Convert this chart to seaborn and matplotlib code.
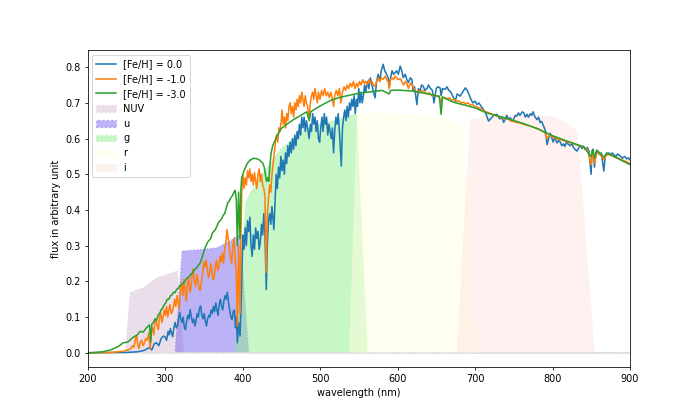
import numpy as np
import pandas as pd
import matplotlib
matplotlib.use("Agg")
import matplotlib.pyplot as plt
import seaborn as sns

# ---------------- data ----------------
labels = ["[Fe/H] = 0.0", "[Fe/H] = -1.0", "[Fe/H] = -3.0"]

wl_fe0 = [200, 250, 265, 272, 276, 280, 283, 286, 289, 292, 295, 298,
          300, 302, 304, 305.5, 307, 308.5, 310, 311.5, 313, 314.5, 316, 317.5, 319, 320.5,
          322, 323.5, 325, 326.5, 328, 329.5, 331, 332.5, 334, 335.5, 337, 338.5, 340, 341.5,
          343, 344.5, 346, 347.5, 349, 350.5, 352, 353.5, 355, 356.5, 358, 359.5, 361, 362.5,
          364, 365.5, 367, 368.5, 370, 371.5, 373, 374.5, 376, 377.5, 379, 380.5, 382, 383.5,
          385, 386.5, 388, 389.5, 391, 392, 393.4, 395, 396.8, 398,
          399, 400.5, 402, 403.5, 405, 406.5, 408, 409.5, 411, 412.5, 414, 415.5, 417, 418.5,
          420, 421.5, 423, 424.5, 426, 427.5, 429, 430.7, 432, 433.5, 435, 436.5, 438, 439.5,
          440.5, 442, 443.5, 445, 446.5, 448, 449.5, 451, 452.5, 454, 455.5, 457, 458.5, 460,
          461.5, 463, 464.5, 466, 467.5, 469, 470.5, 472, 473.5, 475, 476.5, 478, 479.5, 481,
          482.5, 484, 486, 487.5, 489, 490.5, 492, 493.5, 495, 496.5, 498, 499.5, 501, 502.5,
          504, 505.5, 507, 508.5, 510, 511.5, 513, 514.5, 516, 517.5, 519, 520.5, 522, 523.5,
          525, 526, 527.5, 529, 530.5, 532, 533.5, 535, 536.5, 538, 539.5, 541, 542.5, 544,
          545.5, 547, 548.5, 550, 551.5, 553, 554.5, 556, 557.5, 559, 561, 563, 565, 567, 569,
          571, 573, 575, 577, 579, 581.5, 583.5, 586, 588, 589.3, 591, 593, 595, 597, 599, 601,
          603.5, 605.5, 607.5, 610, 612, 614, 616.5, 618.5, 620, 622, 625, 627, 629, 631, 633,
          635.5, 638, 640, 642, 645, 647, 650, 652, 655, 656.3, 658, 661.5, 664, 666, 668, 671,
          674.5, 677, 681, 684, 687.5, 690, 692, 694, 697, 700, 702.5, 705, 708, 711, 714,
          717.5, 720, 724, 728, 732, 735, 737, 741, 743, 745.6, 748, 750, 752, 754, 756, 758,
          761, 763, 765, 767, 769, 771.4, 773, 775, 777, 780, 782, 784, 786, 788.6, 791, 793,
          795, 797, 799, 801, 803, 805.7, 808, 810, 812, 814.3, 816, 818, 820, 823, 825, 827,
          829, 831.6, 834, 836, 838, 840, 842, 845, 847, 849.8, 851, 852.5, 854.2, 856, 858,
          861, 863, 866.2, 868, 870, 873, 875, 877, 879, 882, 884, 887.6, 890, 893, 896, 898, 900]
flux_fe0 = [0.0, 0.001, 0.003, 0.006, 0.010, 0.015, 0.008, 0.025, 0.028, 0.020, 0.040, 0.047,
            0.045, 0.035, 0.060, 0.050, 0.068, 0.055, 0.045, 0.070, 0.085, 0.070, 0.075, 0.095,
            0.112, 0.095, 0.085, 0.100, 0.070, 0.065, 0.090, 0.105, 0.095, 0.121, 0.100, 0.085,
            0.095, 0.075, 0.090, 0.110, 0.100, 0.125, 0.131, 0.105, 0.095, 0.110, 0.090, 0.075,
            0.095, 0.105, 0.100, 0.120, 0.110, 0.130, 0.115, 0.140, 0.120, 0.105, 0.135, 0.150,
            0.130, 0.120, 0.145, 0.160, 0.150, 0.170, 0.140, 0.120, 0.100, 0.093, 0.115, 0.120,
            0.070, 0.100, 0.028, 0.084, 0.047, 0.120,
            0.200, 0.330, 0.290, 0.350, 0.300, 0.370, 0.340, 0.380, 0.300, 0.270, 0.330, 0.290,
            0.350, 0.320, 0.340, 0.290, 0.310, 0.360, 0.330, 0.390, 0.330, 0.177, 0.300, 0.370,
            0.390, 0.360, 0.410, 0.370, 0.345, 0.420, 0.500, 0.460, 0.520, 0.490, 0.550, 0.510,
            0.540, 0.500, 0.560, 0.530, 0.580, 0.550, 0.590, 0.560, 0.600, 0.570, 0.610, 0.580,
            0.620, 0.600, 0.640, 0.610, 0.660, 0.630, 0.660, 0.620, 0.650, 0.630, 0.600, 0.640,
            0.620, 0.670, 0.640, 0.660, 0.620, 0.650, 0.600, 0.590, 0.630, 0.660, 0.620, 0.670,
            0.640, 0.660, 0.610, 0.640, 0.620, 0.600, 0.630, 0.560, 0.620, 0.660, 0.640, 0.670,
            0.620, 0.580, 0.523, 0.630, 0.660, 0.680, 0.650, 0.690, 0.660, 0.700, 0.680, 0.710,
            0.690, 0.720, 0.670, 0.710, 0.690, 0.740, 0.700, 0.730, 0.700, 0.720, 0.750, 0.730,
            0.760, 0.740, 0.770, 0.750, 0.730, 0.714, 0.760, 0.780, 0.760, 0.790, 0.808, 0.790,
            0.780, 0.770, 0.743, 0.770, 0.790, 0.780, 0.785, 0.790, 0.780, 0.803, 0.790, 0.771,
            0.780, 0.765, 0.757, 0.770, 0.766, 0.733, 0.745, 0.695, 0.740, 0.733, 0.750, 0.747,
            0.735, 0.740, 0.750, 0.742, 0.735, 0.700, 0.740, 0.745, 0.742, 0.720, 0.740, 0.738,
            0.745, 0.735, 0.733, 0.720, 0.705, 0.725, 0.719, 0.730, 0.742, 0.735, 0.725, 0.714,
            0.700, 0.705, 0.695, 0.700, 0.690, 0.681, 0.670, 0.649, 0.655, 0.665, 0.668, 0.655,
            0.660, 0.645, 0.665, 0.655, 0.658, 0.648, 0.655, 0.665, 0.663, 0.672, 0.665, 0.675,
            0.672, 0.660, 0.668, 0.660, 0.670, 0.665, 0.675, 0.662, 0.653, 0.660, 0.645, 0.648,
            0.635, 0.620, 0.583, 0.600, 0.615, 0.602, 0.590, 0.605, 0.588, 0.595, 0.590, 0.580,
            0.585, 0.578, 0.590, 0.585, 0.580, 0.586, 0.575, 0.570, 0.565, 0.575, 0.580, 0.572,
            0.579, 0.570, 0.575, 0.565, 0.500, 0.565, 0.570, 0.520, 0.560, 0.565, 0.555, 0.560,
            0.509, 0.550, 0.555, 0.560, 0.553, 0.560, 0.555, 0.550, 0.557, 0.551, 0.545, 0.550,
            0.543, 0.546, 0.540]

wl_fe1 = [200, 230, 245, 252, 256, 258, 260, 262, 263.5, 265, 266.5, 268, 270, 271.5, 273,
          275, 277, 279, 281, 282.5, 284, 285.5, 287, 288.5, 290, 291.5, 293, 294.5, 296,
          297.5, 299, 300.5, 302, 303.5, 305, 306.5, 308, 309.5, 311, 312.5, 314, 315.5, 317,
          318.5, 320, 321.5, 323, 324.5, 326, 327.5, 329, 330.5, 332, 333.5, 335, 336.5, 338,
          339.5, 341, 342.5, 344, 345.5, 347, 348.5, 350, 351.5, 353, 354.5, 356, 357.5, 359,
          360.5, 362, 363.5, 365, 366.5, 368, 369.5, 371, 372.5, 374, 375.5, 377, 378.5, 380,
          381.5, 383, 384.5, 386, 387.5, 389, 390.5, 392, 393.4, 395, 396.8, 398,
          399, 400.5, 402, 403.5, 405, 406.5, 408, 409.5, 411, 412.5, 414, 415.5, 417, 418.5,
          420, 421.5, 423, 424.5, 426, 427.5, 429, 430.5, 432, 433.5, 435, 436.5, 438, 439.5,
          441, 442.5, 444, 445.5, 447, 448.5, 450, 451, 452.5, 454, 455.5, 457, 458.5, 460,
          461.5, 463, 464.5, 466, 467.5, 469, 470.5, 472, 473.5, 475, 476.5, 478, 479.5, 481,
          482.5, 484, 486, 487.5, 489, 490.5, 492, 493.5, 495, 496.5, 498, 500, 502, 504, 506,
          508, 510, 512, 514, 516, 517.5, 519, 521, 523, 525, 527, 529, 531, 533, 535, 537,
          539, 541, 543, 545, 547, 549, 551, 553, 555, 557, 559, 561, 563, 565, 567, 569, 571,
          573, 575, 577, 579, 581.5, 584, 586, 588, 589.3, 591, 593, 595, 597, 599, 601, 603.5,
          605.5, 608, 610, 612, 614, 616.5, 619, 621, 623, 625, 627, 629, 632, 635, 638, 641,
          644, 647, 650, 653, 656.3, 658, 661, 664, 667, 670, 673, 676, 679, 682, 685, 688,
          691, 694, 697, 700, 703, 706, 710, 714, 718, 722, 726, 730, 734, 738, 742, 746, 750,
          754, 758, 762, 766, 770, 774, 778, 782, 786, 790, 793, 796, 800, 805, 810, 815, 820,
          825, 830, 835, 840, 845, 849.8, 852, 854.2, 857, 861, 866.2, 869, 873, 877, 880, 885,
          890, 895, 900]
flux_fe1 = [0.0, 0.001, 0.004, 0.008, 0.012, 0.020, 0.015, 0.040, 0.048, 0.020, 0.012, 0.030,
            0.035, 0.020, 0.025, 0.040, 0.035, 0.055, 0.012, 0.060, 0.070, 0.050, 0.085, 0.095,
            0.075, 0.065, 0.100, 0.110, 0.085, 0.100, 0.120, 0.105, 0.130, 0.100, 0.120, 0.135,
            0.110, 0.115, 0.130, 0.150, 0.130, 0.160, 0.140, 0.125, 0.180, 0.195, 0.160, 0.205,
            0.170, 0.145, 0.190, 0.210, 0.170, 0.180, 0.220, 0.235, 0.200, 0.185, 0.220, 0.205,
            0.180, 0.175, 0.200, 0.220, 0.255, 0.240, 0.260, 0.235, 0.210, 0.220, 0.250, 0.230,
            0.205, 0.210, 0.245, 0.260, 0.230, 0.240, 0.270, 0.255, 0.280, 0.250, 0.290, 0.310,
            0.345, 0.320, 0.290, 0.270, 0.250, 0.300, 0.320, 0.260, 0.220, 0.075, 0.300, 0.110,
            0.330,
            0.450, 0.500, 0.460, 0.490, 0.470, 0.510, 0.490, 0.515, 0.480, 0.500, 0.470, 0.505,
            0.480, 0.460, 0.500, 0.515, 0.480, 0.500, 0.470, 0.460, 0.440, 0.225, 0.380, 0.430,
            0.470, 0.450, 0.500, 0.530, 0.560, 0.590, 0.610, 0.590, 0.630, 0.620, 0.650, 0.680,
            0.640, 0.660, 0.630, 0.670, 0.650, 0.690, 0.700, 0.670, 0.690, 0.660, 0.700, 0.680,
            0.710, 0.690, 0.720, 0.700, 0.730, 0.710, 0.690, 0.720, 0.700, 0.690, 0.660, 0.700,
            0.720, 0.730, 0.710, 0.740, 0.720, 0.700, 0.730, 0.710, 0.735, 0.720, 0.740, 0.720,
            0.730, 0.715, 0.730, 0.710, 0.690, 0.720, 0.735, 0.720, 0.740, 0.700, 0.730, 0.745,
            0.735, 0.750, 0.740, 0.755, 0.745, 0.760, 0.740, 0.755, 0.745, 0.760, 0.750, 0.765,
            0.755, 0.760, 0.750, 0.765, 0.755, 0.760, 0.750, 0.745, 0.760, 0.770, 0.760, 0.770,
            0.766, 0.775, 0.765, 0.760, 0.740, 0.765, 0.770, 0.765, 0.775, 0.770, 0.765, 0.768,
            0.760, 0.750, 0.760, 0.755, 0.740, 0.755, 0.750, 0.740, 0.735, 0.730, 0.735, 0.728,
            0.735, 0.730, 0.725, 0.728, 0.720, 0.722, 0.719, 0.720, 0.700, 0.717, 0.714, 0.712,
            0.714, 0.708, 0.710, 0.704, 0.706, 0.700, 0.702, 0.697, 0.700, 0.694, 0.695, 0.690,
            0.688, 0.685, 0.680, 0.675, 0.672, 0.668, 0.665, 0.662, 0.660, 0.655, 0.655, 0.650,
            0.648, 0.645, 0.644, 0.640, 0.638, 0.636, 0.633, 0.630, 0.627, 0.622, 0.617, 0.600,
            0.610, 0.605, 0.600, 0.597, 0.594, 0.590, 0.588, 0.583, 0.580, 0.576, 0.570, 0.527,
            0.565, 0.530, 0.560, 0.557, 0.541, 0.553, 0.555, 0.552, 0.548, 0.545, 0.540, 0.536,
            0.530]

wl_fe3 = [200, 210, 220, 230, 240, 246, 252, 258, 264, 268, 272, 276, 280, 281.5, 283, 285,
          287, 289, 291, 293, 295, 297, 299, 301, 303, 305, 307, 309, 311, 313, 315, 317, 319,
          321, 323, 325, 327, 329, 331, 333, 335, 337, 339, 341, 343, 345, 347, 349, 351, 353,
          355, 357, 359, 361, 363, 365, 367, 369, 371, 373, 375, 377, 379, 381, 383, 385, 387,
          389, 390.5, 392, 393.4, 395, 396.8, 398, 399, 402, 404, 406, 408, 410, 412, 414, 416,
          418, 420, 422, 424, 426, 428, 429.5, 431, 432.5, 434, 435.5, 437, 439, 441, 443, 445,
          450, 457, 465, 475, 483, 486, 488, 495, 505, 515, 525, 535, 550, 565, 580, 589.3, 591,
          600, 620, 640, 654, 656.3, 658, 672, 690, 700, 715, 740, 760, 780, 800, 820, 840,
          849.8, 852, 854.2, 857, 866.2, 870, 900]
flux_fe3 = [0.0, 0.001, 0.003, 0.008, 0.018, 0.028, 0.030, 0.042, 0.050, 0.060, 0.058, 0.070,
            0.078, 0.030, 0.080, 0.085, 0.095, 0.090, 0.105, 0.110, 0.120, 0.125, 0.135, 0.140,
            0.150, 0.150, 0.160, 0.162, 0.170, 0.168, 0.178, 0.180, 0.188, 0.190, 0.195, 0.198,
            0.205, 0.210, 0.212, 0.220, 0.222, 0.230, 0.234, 0.238, 0.245, 0.250, 0.262, 0.275,
            0.290, 0.300, 0.310, 0.315, 0.320, 0.335, 0.340, 0.345, 0.355, 0.365, 0.370, 0.375,
            0.385, 0.390, 0.405, 0.420, 0.425, 0.435, 0.440, 0.450, 0.455, 0.430, 0.300, 0.450,
            0.320, 0.460, 0.490, 0.510, 0.520, 0.530, 0.535, 0.540, 0.542, 0.545, 0.544, 0.544,
            0.542, 0.540, 0.535, 0.532, 0.520, 0.500, 0.480, 0.490, 0.480, 0.530, 0.560, 0.580,
            0.590, 0.600, 0.610, 0.628, 0.640, 0.652, 0.665, 0.675, 0.650, 0.675, 0.685, 0.697,
            0.708, 0.715, 0.720, 0.727, 0.731, 0.735, 0.725, 0.735, 0.736, 0.733, 0.725, 0.718,
            0.668, 0.716, 0.702, 0.692, 0.686, 0.672, 0.657, 0.644, 0.628, 0.608, 0.592, 0.577,
            0.550, 0.570, 0.545, 0.568, 0.548, 0.560, 0.527]

filter_names = ["NUV", "u", "g", "r", "i"]
filter_colors = ["thistle", "mediumslateblue", "lightgreen", "lightyellow", "mistyrose"]
wl_nuv = [200, 249, 255, 272, 289.5, 302.5, 316, 324, 900]
tr_nuv = [0, 0, 0.169, 0.182, 0.210, 0.219, 0.229, 0, 0]
wl_u = [200, 313, 322, 345.5, 367, 384, 392.8, 397, 408, 900]
tr_u = [0, 0, 0.285, 0.289, 0.294, 0.313, 0.327, 0.331, 0, 0]
wl_g = [200, 391, 404, 410, 418.6, 428, 436, 449, 460, 471, 479, 500, 522, 543, 547, 561, 900]
tr_g = [0, 0, 0.420, 0.448, 0.476, 0.509, 0.532, 0.570, 0.590, 0.607, 0.625, 0.640, 0.653,
        0.667, 0.668, 0, 0]
wl_r = [200, 538, 548, 554, 580, 604, 643, 670, 684, 703, 900]
tr_r = [0, 0, 0.672, 0.672, 0.673, 0.668, 0.663, 0.650, 0.630, 0, 0]
wl_i = [200, 677, 694, 711, 740, 777, 800, 815, 832, 854, 900]
tr_i = [0, 0, 0.652, 0.660, 0.666, 0.666, 0.660, 0.648, 0.620, 0, 0]

# ---------------- plotting ----------------
fig = plt.figure(figsize=(10, 6), dpi=70)
ax = fig.add_axes([0.125, 0.126, 0.775, 0.754])

spectra = [(wl_fe0, flux_fe0), (wl_fe1, flux_fe1), (wl_fe3, flux_fe3)]
for k, ((w, f), lab) in enumerate(zip(spectra, labels)):
    df = pd.DataFrame({"wavelength": w, "flux": f})
    sns.lineplot(data=df, x="wavelength", y="flux", ax=ax, color=f"C{k}",
                 label=lab, estimator=None, linewidth=1.6)

filters = [(wl_nuv, tr_nuv), (wl_u, tr_u), (wl_g, tr_g), (wl_r, tr_r), (wl_i, tr_i)]
for (w, t), name, c in zip(filters, filter_names, filter_colors):
    ax.fill_between(w, t, color=c, alpha=0.5, linestyle=":", linewidth=1.3, label=name)

ax.set_xlim(200, 900)
ax.set_ylim(-0.04, 0.847)
ax.set_xlabel("wavelength (nm)")
ax.set_ylabel("flux in arbitrary unit")
ax.legend(loc="upper left")

fig.savefig("out.png", dpi=70)
